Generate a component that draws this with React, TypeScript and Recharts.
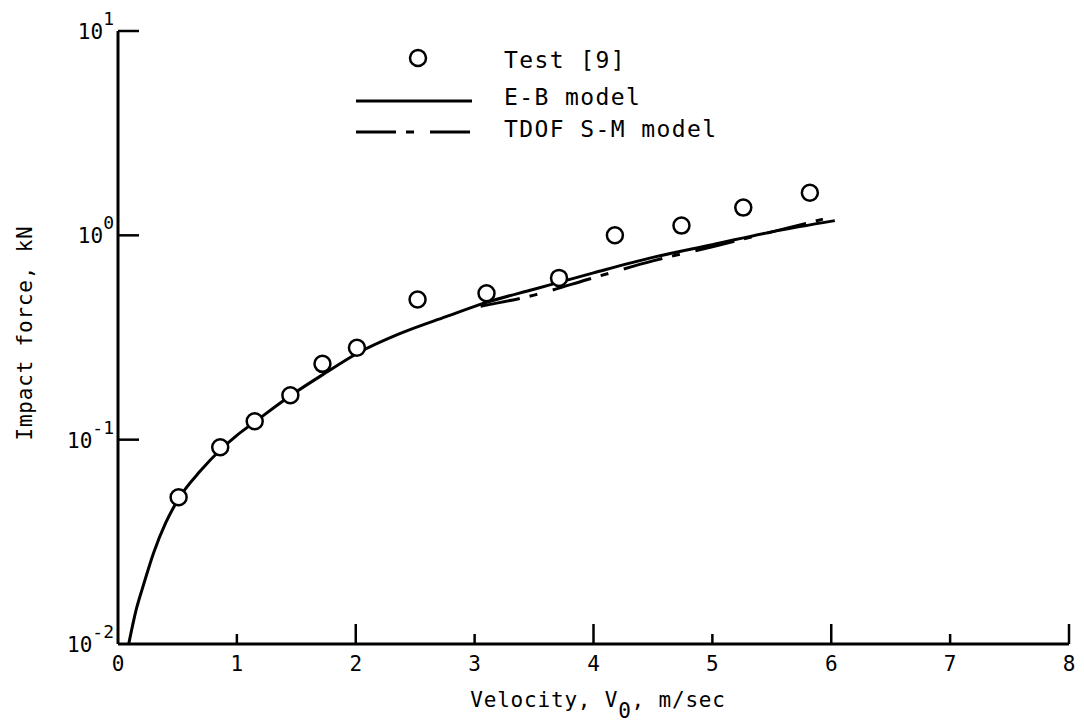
import { ComposedChart, Line, Scatter, XAxis, YAxis, Legend } from 'recharts';

// Test [9] measurements
const testV = [0.51, 0.86, 1.15, 1.45, 1.72, 2.01, 2.52, 3.1, 3.71, 4.18, 4.74, 5.26, 5.82];
const testF = [0.0523, 0.0918, 0.123, 0.165, 0.235, 0.282, 0.485, 0.521, 0.619, 1.0, 1.116, 1.367, 1.616];

// E-B model curve
const ebV = [0.09, 0.15, 0.21, 0.3, 0.4, 0.52, 0.69, 0.86, 1.0, 1.15, 1.45, 1.75, 2.0, 2.37, 2.76, 3.1, 3.5, 4.0, 4.5, 5.0, 5.5, 6.03];
const ebF = [0.01, 0.0145, 0.0191, 0.028, 0.039, 0.0525, 0.07, 0.089, 0.105, 0.122, 0.164, 0.213, 0.262, 0.33, 0.4, 0.47, 0.545, 0.655, 0.78, 0.9, 1.04, 1.18];

// TDOF S-M model curve
const tdofV = [3.05, 3.5, 4.0, 4.5, 5.0, 5.5, 5.93];
const tdofF = [0.45, 0.51, 0.62, 0.75, 0.88, 1.04, 1.2];

const xTicks = [0, 1, 2, 3, 4, 5, 6, 7, 8];
const yTicks = [0.01, 0.1, 1, 10];

const FONT = '"DejaVu Sans Mono", monospace';
const DASH = '40 10 8 16';

const zip = (xs: number[], ys: number[]) => xs.map((x, i) => ({ x, y: ys[i] }));

const testData = zip(testV, testF);
const ebData = zip(ebV, ebF);
const tdofData = zip(tdofV, tdofF);

const XTick = (props: any) => {
  const { x, y, payload } = props;
  const v = payload.value;
  const len = v === 0 ? 0 : v % 2 === 0 ? 20 : 10;
  return (
    <g>
      {len > 0 && <line x1={x} x2={x} y1={y} y2={y - len} stroke="#000" strokeWidth={2.5} />}
      <text x={x} y={y + 27} textAnchor="middle" fontFamily={FONT} fontSize={21} fill="#000">
        {v}
      </text>
    </g>
  );
};

const YTick = (props: any) => {
  const { x, y, payload } = props;
  const v = payload.value;
  const exp = Math.round(Math.log10(v));
  return (
    <g>
      {v > 0.011 && <line x1={x} x2={x + 21} y1={y} y2={y} stroke="#000" strokeWidth={2.5} />}
      <text x={x - 4} y={y + 8} textAnchor="end" fontFamily={FONT} fontSize={21} fill="#000">
        10
        <tspan dy={-14} fontSize={18}>{exp}</tspan>
      </text>
    </g>
  );
};

const TestDot = (props: any) => (
  <circle cx={props.cx} cy={props.cy} r={8} fill="#fff" stroke="#000" strokeWidth={2.5} />
);

const legendText = { fontFamily: FONT, fontSize: 23, letterSpacing: 1.4, fill: '#000' };

const renderLegend = () => (
  <svg width={760} height={150}>
    <circle cx={418} cy={58} r={8} fill="#fff" stroke="#000" strokeWidth={2.5} />
    <text x={504} y={68} {...legendText}>Test [9]</text>
    <line x1={356} x2={472} y1={101} y2={101} stroke="#000" strokeWidth={3} />
    <text x={504} y={105} {...legendText}>E-B model</text>
    <line x1={356} x2={472} y1={132} y2={132} stroke="#000" strokeWidth={3} strokeDasharray={DASH} />
    <text x={504} y={137} {...legendText}>TDOF S-M model</text>
  </svg>
);

export default function App() {
  return (
    <div style={{ position: 'absolute', left: 0, top: 0, width: 1084, height: 723, background: '#fff' }}>
      <ComposedChart width={1084} height={723} margin={{ top: 31, right: 15, bottom: 0, left: 0 }}>
        <XAxis
          type="number"
          dataKey="x"
          domain={[0, 8]}
          ticks={xTicks}
          allowDataOverflow
          height={79}
          tickSize={0}
          tickMargin={0}
          tickLine={false}
          axisLine={{ stroke: '#000', strokeWidth: 3 }}
          tick={XTick}
          interval={0}
          label={{
            content: () => (
              <text x={598} y={707} textAnchor="middle" fontFamily={FONT} fontSize={21} letterSpacing={0.8} fill="#000">
                Velocity, V
                <tspan dy={11}>0</tspan>
                <tspan dy={-11}>, m/sec</tspan>
              </text>
            ),
          }}
        />
        <YAxis
          type="number"
          dataKey="y"
          scale="log"
          domain={[0.01, 10]}
          ticks={yTicks}
          allowDataOverflow
          width={118}
          tickSize={0}
          tickMargin={0}
          tickLine={false}
          axisLine={{ stroke: '#000', strokeWidth: 3 }}
          tick={YTick}
          interval={0}
          label={{
            content: () => (
              <text
                x={32}
                y={333}
                transform="rotate(-90 32 333)"
                textAnchor="middle"
                fontFamily={FONT}
                fontSize={21}
                letterSpacing={0.8}
                fill="#000"
              >
                Impact force, kN
              </text>
            ),
          }}
        />
        <Legend
          content={renderLegend}
          layout="horizontal"
          verticalAlign="middle"
          align="center"
          wrapperStyle={{ left: 0, top: 0, width: 760, height: 150 }}
        />
        <Line
          data={ebData}
          dataKey="y"
          type="monotone"
          stroke="#000"
          strokeWidth={3}
          dot={false}
          isAnimationActive={false}
        />
        <Line
          data={tdofData}
          dataKey="y"
          type="monotone"
          stroke="#000"
          strokeWidth={3}
          strokeDasharray={DASH}
          dot={false}
          isAnimationActive={false}
        />
        <Scatter data={testData} dataKey="y" shape={TestDot} isAnimationActive={false} />
      </ComposedChart>
    </div>
  );
}
